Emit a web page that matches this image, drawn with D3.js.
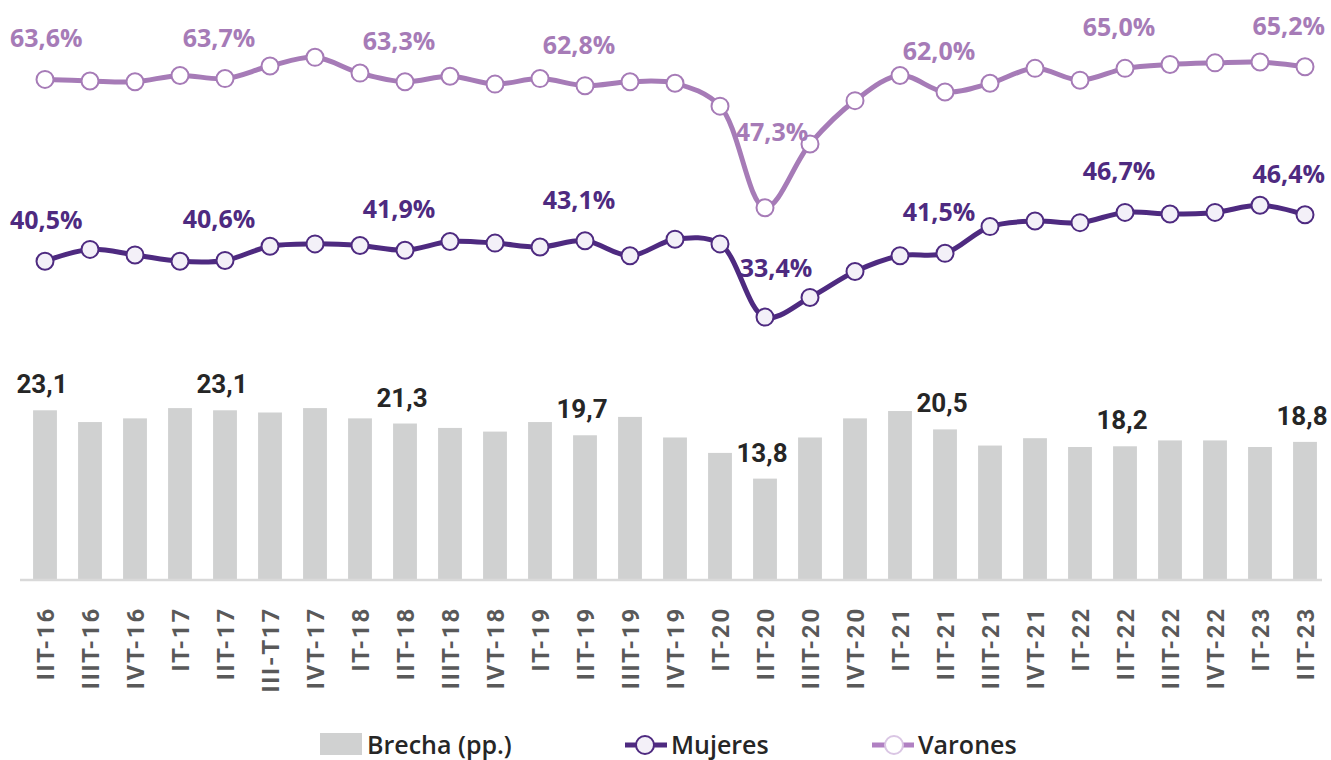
<!DOCTYPE html>
<html>
<head>
<meta charset="utf-8">
<script src="https://cdn.jsdelivr.net/npm/d3@7"></script>
<style>
	body { margin: 0; background: #ffffff; }
	svg { display: block; }
</style>
</head>
<body>
<svg id="chart"></svg>
<script>

// data
const CATS = ['IIT-16', 'IIIT-16', 'IVT-16', 'IT-17', 'IIT-17', 'III-T17', 'IVT-17',
	'IT-18', 'IIT-18', 'IIIT-18', 'IVT-18', 'IT-19', 'IIT-19', 'IIIT-19', 'IVT-19',
	'IT-20', 'IIT-20', 'IIIT-20', 'IVT-20', 'IT-21', 'IIT-21', 'IIIT-21', 'IVT-21',
	'IT-22', 'IIT-22', 'IIIT-22', 'IVT-22', 'IT-23', 'IIT-23'];
const VARONES = [63.6, 63.4, 63.3, 64.1, 63.7, 65.3, 66.4, 64.4, 63.3, 64.0, 63.0, 63.7, 62.8, 63.3, 63.1,
	60.2, 47.3, 55.4, 60.9, 64.1, 62.0, 63.1, 65.0, 63.5, 65.0, 65.5, 65.7, 65.8, 65.2];
const MUJERES = [40.5, 42.0, 41.3, 40.5, 40.6, 42.4, 42.7, 42.5, 41.9, 43.0, 42.8, 42.3, 43.1, 41.2, 43.3,
	42.7, 33.4, 35.9, 39.2, 41.2, 41.5, 44.9, 45.6, 45.4, 46.7, 46.5, 46.7, 47.6, 46.4];
const BRECHA = [23.1, 21.5, 22.0, 23.4, 23.1, 22.8, 23.4, 22.0, 21.3, 20.7, 20.2, 21.5, 19.7, 22.2, 19.4,
	17.3, 13.8, 19.4, 22.0, 23.0, 20.5, 18.3, 19.3, 18.1, 18.2, 19.0, 19.0, 18.1, 18.8];
const LEGEND = ['Brecha (pp.)', 'Mujeres', 'Varones'];

// constants
const W = 1331, H = 760;
const BASE = 580, TOP = 29;
const C_BAR = '#d0d1d1', C_VAR = '#a67bb7', C_MUJ = '#4e2a80', C_TXT = '#262626', C_AX = '#595959';

var svg = d3.select('#chart').attr('width', W).attr('height', H);

// scales
var x = d3.scaleBand()
	.domain(CATS)
	.range([22.5, 1327.5])
	.paddingInner(0.47)
	.paddingOuter(0.235);
var xc = function(d) { return x(d) + x.bandwidth()/2; };
var yLine = d3.scaleLinear().domain([0, 70]).range([BASE, TOP]);
var yBar = d3.scaleLinear().domain([0, 75]).range([BASE, TOP]);

var labelled = function(i) { return i % 4 == 0; };

// bars
svg.append('g').selectAll('rect')
	.data(BRECHA)
	.enter()
	.append('rect')
	.attr('x', function(d,i) { return x(CATS[i]); })
	.attr('y', function(d) { return yBar(d); })
	.attr('width', x.bandwidth())
	.attr('height', function(d) { return BASE - yBar(d); })
	.style('fill', C_BAR);

// x axis
var xAxis = svg.append('g')
	.attr('transform', 'translate(0,' + BASE + ')')
	.call(d3.axisBottom(x).tickSize(0).tickPadding(0));
xAxis.select('.domain')
	.attr('d', 'M20,0H1322')
	.style('stroke', '#d9d9d9')
	.style('stroke-width', 2.5);
xAxis.selectAll('text')
	.attr('transform', 'rotate(-90)')
	.attr('x', -27)
	.attr('y', 0)
	.attr('dy', '0.36em')
	.style('text-anchor', 'end')
	.style('font-family', 'Roboto, sans-serif')
	.style('font-weight', 700)
	.style('font-size', '24px')
	.style('letter-spacing', '1.8px')
	.style('fill', C_AX);

// bar labels
svg.append('g').selectAll('text')
	.data(BRECHA.map(function(d,i) { return {v: d, i: i}; }).filter(function(d) { return labelled(d.i); }))
	.enter()
	.append('text')
	.attr('x', function(d) { return xc(CATS[d.i]) - 3; })
	.attr('y', function(d) { return yBar(d.v) - 17; })
	.attr('text-anchor', 'middle')
	.style('font-family', 'Roboto, sans-serif')
	.style('font-weight', 700)
	.style('font-size', '26px')
	.style('fill', C_TXT)
	.text(function(d) { return d3.format('.1f')(d.v).replace('.', ','); });

// lines
function drawSeries(values, color, fill, special) {
	var line = d3.line()
		.x(function(d,i) { return xc(CATS[i]); })
		.y(function(d) { return yLine(d); })
		.curve(d3.curveCatmullRom.alpha(0.5));

	svg.append('path')
		.datum(values)
		.attr('d', line)
		.style('fill', 'none')
		.style('stroke', color)
		.style('stroke-width', 5)
		.style('stroke-linejoin', 'round');

	svg.append('g').selectAll('circle')
		.data(values)
		.enter()
		.append('circle')
		.attr('cx', function(d,i) { return xc(CATS[i]); })
		.attr('cy', function(d) { return yLine(d); })
		.attr('r', 8.5)
		.style('fill', fill)
		.style('stroke', color)
		.style('stroke-width', 2);

	var labels = svg.append('g').selectAll('text')
		.data(values.map(function(d,i) { return {v: d, i: i}; }).filter(function(d) { return labelled(d.i); }))
		.enter()
		.append('text')
		.attr('y', function(d) { return yLine(d.v) - (d.i == 16 ? special.dy : 32); })
		.attr('text-anchor', 'middle')
		.style('font-family', '"Open Sans", sans-serif')
		.style('font-weight', 700)
		.style('font-size', '25px')
		.style('fill', color)
		.text(function(d) { return d3.format('.1f')(d.v).replace('.', ',') + '%'; });

	// keep labels inside the picture
	labels.attr('x', function(d) {
		var cx = xc(CATS[d.i]) + (d.i == 16 ? special.dx : -6);
		var half = this.getComputedTextLength()/2;
		return Math.max(10 + half, Math.min(1325 - half, cx));
	});
}

drawSeries(VARONES, C_VAR, '#ffffff', {dx: 7, dy: 67});
drawSeries(MUJERES, C_MUJ, '#f3f0f8', {dx: 11, dy: 40});

// legend
var legend = svg.append('g').attr('class', 'legend')
	.style('font-family', '"Open Sans", sans-serif')
	.style('font-weight', 600)
	.style('font-size', '25px')
	.style('fill', C_TXT);

legend.append('rect')
	.attr('x', 320).attr('y', 733)
	.attr('width', 42).attr('height', 22)
	.style('fill', C_BAR);
legend.append('text').attr('x', 367).attr('y', 754).text(LEGEND[0]);

legend.append('line')
	.attr('x1', 625).attr('x2', 667).attr('y1', 745).attr('y2', 745)
	.style('stroke', C_MUJ).style('stroke-width', 5);
legend.append('circle')
	.attr('cx', 645).attr('cy', 745).attr('r', 9)
	.style('fill', '#f3f0f8').style('stroke', C_MUJ).style('stroke-width', 2);
legend.append('text').attr('x', 671).attr('y', 754).text(LEGEND[1]);

legend.append('line')
	.attr('x1', 872).attr('x2', 914).attr('y1', 745).attr('y2', 745)
	.style('stroke', '#b080c2').style('stroke-width', 5);
legend.append('circle')
	.attr('cx', 894).attr('cy', 745).attr('r', 9)
	.style('fill', '#ffffff').style('stroke', '#dac6e4').style('stroke-width', 2);
legend.append('text').attr('x', 918).attr('y', 754).text(LEGEND[2]);

</script>
</body>
</html>
